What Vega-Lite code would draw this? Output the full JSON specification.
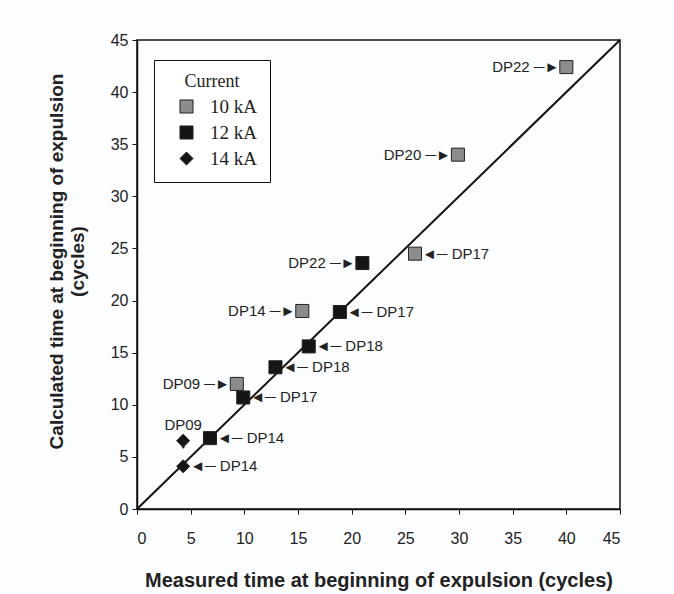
{
  "$schema": "https://vega.github.io/schema/vega-lite/v6.json",
  "width": 483,
  "height": 469,
  "autosize": {"type": "none"},
  "padding": {"left": 137, "top": 40, "right": 54, "bottom": 85},
  "background": "#fcfdfe",
  "config": {
    "font": "Liberation Sans",
    "view": {"stroke": "#111", "strokeWidth": 1.5},
    "axis": {
      "grid": false,
      "domainColor": "#111",
      "domainWidth": 1.5,
      "tickColor": "#111",
      "tickSize": 5,
      "labelFont": "Liberation Sans",
      "labelFontSize": 16,
      "labelColor": "#222",
      "titleFont": "Liberation Sans",
      "titleFontWeight": "bold",
      "titleColor": "#222"
    }
  },
  "data": {
    "values": [
      {"current": "10 kA", "measured": 40, "calculated": 42.4, "label": "DP22 ─►", "side": "left"},
      {"current": "10 kA", "measured": 29.9, "calculated": 34, "label": "DP20 ─►", "side": "left"},
      {"current": "10 kA", "measured": 25.9, "calculated": 24.5, "label": "◄─ DP17", "side": "right"},
      {"current": "10 kA", "measured": 15.4, "calculated": 19, "label": "DP14 ─►", "side": "left"},
      {"current": "10 kA", "measured": 9.3, "calculated": 12, "label": "DP09 ─►", "side": "left"},
      {"current": "12 kA", "measured": 21, "calculated": 23.6, "label": "DP22 ─►", "side": "left"},
      {"current": "12 kA", "measured": 18.9, "calculated": 18.9, "label": "◄─ DP17", "side": "right"},
      {"current": "12 kA", "measured": 16, "calculated": 15.6, "label": "◄─ DP18", "side": "right"},
      {"current": "12 kA", "measured": 12.9, "calculated": 13.6, "label": "◄─ DP18", "side": "right"},
      {"current": "12 kA", "measured": 9.9, "calculated": 10.7, "label": "◄─ DP17", "side": "right"},
      {"current": "12 kA", "measured": 6.8, "calculated": 6.8, "label": "◄─ DP14", "side": "right"},
      {"current": "14 kA", "measured": 4.3, "calculated": 6.55, "label": "DP09\n↓", "side": "above"},
      {"current": "14 kA", "measured": 4.3, "calculated": 4.1, "label": "◄─ DP14", "side": "right"}
    ]
  },
  "encoding": {
    "x": {
      "field": "measured", "type": "quantitative",
      "scale": {"domain": [0, 45], "nice": false},
      "axis": {"values": [0,5,10,15,20,25,30,35,40,45], "title": "Measured time at beginning of expulsion (cycles)", "titleFontSize": 20, "titlePadding": 24, "labelPadding": 16}
    },
    "y": {
      "field": "calculated", "type": "quantitative",
      "scale": {"domain": [0, 45], "nice": false},
      "axis": {"values": [0,5,10,15,20,25,30,35,40,45], "title": ["Calculated time at beginning of expulsion", "(cycles)"], "titleFontSize": 19, "titlePadding": 23, "titleY": 221, "labelPadding": 4}
    }
  },
  "layer": [
    {
      "data": {"values": [{"measured": 0, "calculated": 0}, {"measured": 45, "calculated": 45}]},
      "mark": {"type": "line", "color": "#111", "strokeWidth": 2},
      "encoding": {}
    },
    {
      "mark": {"type": "point", "filled": true, "size": 170, "stroke": "#222", "strokeWidth": 1, "opacity": 1},
      "encoding": {
        "shape": {
          "field": "current", "type": "nominal",
          "scale": {"domain": ["10 kA", "12 kA", "14 kA"], "range": ["square", "square", "diamond"]},
          "legend": {
            "title": "Current",
            "orient": "none",
            "legendX": 17,
            "legendY": 20,
            "strokeColor": "#111",
            "fillColor": "white",
            "padding": 13,
            "titleFont": "Liberation Serif",
            "titleFontSize": 18,
            "titleFontWeight": "normal",
            "titleColor": "#222",
            "titleAnchor": "middle",
            "titlePadding": 6,
            "labelFont": "Liberation Serif",
            "labelFontSize": 19,
            "labelColor": "#222",
            "labelOffset": 14,
            "symbolOffset": 10,
            "rowPadding": 6,
            "symbolSize": 170,
            "symbolStrokeWidth": 1
          }
        },
        "fill": {
          "field": "current", "type": "nominal",
          "scale": {"domain": ["10 kA", "12 kA", "14 kA"], "range": ["#8c8c8c", "#151515", "#151515"]},
          "legend": null
        }
      }
    },
    {
      "transform": [{"filter": "datum.side === 'left'"}],
      "mark": {"type": "text", "align": "right", "baseline": "middle", "dx": -7, "fontSize": 15, "color": "#222", "font": "Liberation Sans"},
      "encoding": {"text": {"field": "label"}}
    },
    {
      "transform": [{"filter": "datum.side === 'right'"}],
      "mark": {"type": "text", "align": "left", "baseline": "middle", "dx": 7, "fontSize": 15, "color": "#222", "font": "Liberation Sans"},
      "encoding": {"text": {"field": "label"}}
    },
    {
      "transform": [{"filter": "datum.side === 'above'"}],
      "mark": {"type": "text", "align": "center", "baseline": "bottom", "dy": -8, "fontSize": 15, "lineHeight": 18, "lineBreak": "\n", "color": "#222", "font": "Liberation Sans"},
      "encoding": {"text": {"field": "label"}}
    }
  ]
}
